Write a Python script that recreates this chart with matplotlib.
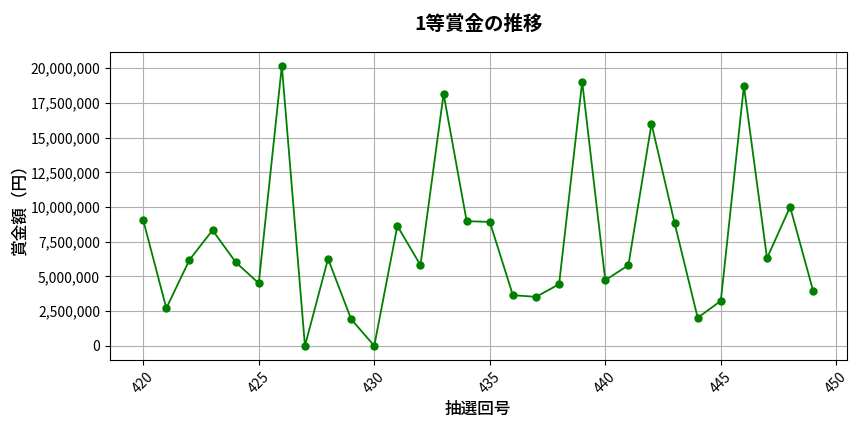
import matplotlib
matplotlib.use('Agg')
from matplotlib import pyplot as plt
from matplotlib.ticker import FuncFormatter

plt.rcParams['font.family'] = ['Noto Sans CJK JP', 'DejaVu Sans']

draws = list(range(420, 450))
prizes = [9050000, 2710000, 6190000, 8330000, 6030000, 4510000, 20170000, 0,
          6270000, 1920000, 0, 8640000, 5810000, 18150000, 8980000, 8930000,
          3650000, 3530000, 4440000, 19020000, 4730000, 5810000, 15990000,
          8840000, 2020000, 3240000, 18730000, 6320000, 10010000, 3940000]

fig, ax = plt.subplots(figsize=(8.64, 4.32), dpi=100)
ax.plot(draws, prizes, marker='o', markersize=5, color='green', linewidth=1.3)
ax.set_title('1等賞金の推移', fontsize=14, fontweight='bold', pad=16)
ax.set_xlabel('抽選回号', fontsize=12, labelpad=3, fontweight='medium')
ax.set_ylabel('賞金額（円）', fontsize=12, labelpad=1, fontweight='medium')
ax.yaxis.set_major_formatter(FuncFormatter(lambda v, p: f'{int(v):,}'))
ax.tick_params(axis='x', rotation=45)
ax.grid(True)
fig.subplots_adjust(left=0.127, right=0.980, top=0.880, bottom=0.167)
fig.savefig('out.png', dpi=100)
